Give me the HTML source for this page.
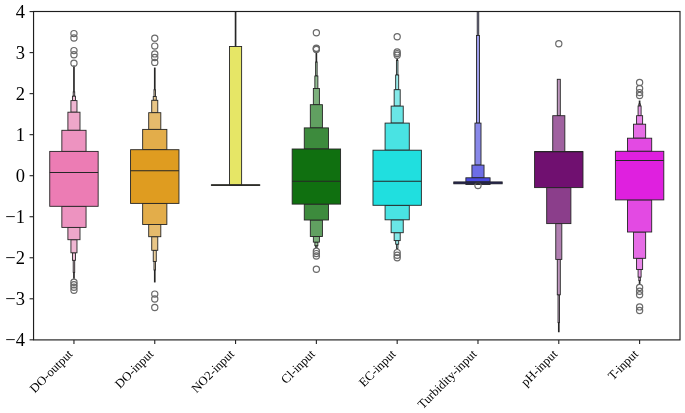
<!DOCTYPE html><html><head><meta charset="utf-8"><style>html,body{margin:0;padding:0;background:#fff;}svg{display:block;will-change:transform;}text{font-family:"Liberation Serif",serif;fill:#000;}</style></head><body>
<svg width="685" height="413" viewBox="0 0 685 413">
<defs><clipPath id="ax"><rect x="33.55" y="11.50" width="646.45" height="328.40"/></clipPath></defs>
<g clip-path="url(#ax)">
<rect x="73.58" y="66.00" width="0.76" height="25.90" fill="#f1d3e2" stroke="#262626" stroke-width="0.90"/>
<rect x="73.58" y="272.40" width="0.76" height="6.00" fill="#f1d3e2" stroke="#262626" stroke-width="0.90"/>
<rect x="73.20" y="91.90" width="1.51" height="4.30" fill="#f0ccde" stroke="#262626" stroke-width="0.90"/>
<rect x="73.20" y="260.30" width="1.51" height="12.10" fill="#f0ccde" stroke="#262626" stroke-width="0.90"/>
<rect x="72.44" y="96.20" width="3.02" height="4.40" fill="#f0c2d9" stroke="#262626" stroke-width="0.90"/>
<rect x="72.44" y="252.80" width="3.02" height="7.50" fill="#f0c2d9" stroke="#262626" stroke-width="0.90"/>
<rect x="70.93" y="100.60" width="6.05" height="11.60" fill="#efb6d2" stroke="#262626" stroke-width="0.90"/>
<rect x="70.93" y="239.70" width="6.05" height="13.10" fill="#efb6d2" stroke="#262626" stroke-width="0.90"/>
<rect x="67.90" y="112.20" width="12.10" height="18.10" fill="#eea7ca" stroke="#262626" stroke-width="0.90"/>
<rect x="67.90" y="227.40" width="12.10" height="12.30" fill="#eea7ca" stroke="#262626" stroke-width="0.90"/>
<rect x="61.85" y="130.30" width="24.20" height="21.10" fill="#ed93c0" stroke="#262626" stroke-width="0.90"/>
<rect x="61.85" y="206.30" width="24.20" height="21.10" fill="#ed93c0" stroke="#262626" stroke-width="0.90"/>
<rect x="49.75" y="151.40" width="48.40" height="54.90" fill="#ec7cb4" stroke="#262626" stroke-width="0.90"/>
<circle cx="73.95" cy="33.60" r="3.10" fill="none" stroke="#6a6a6a" stroke-width="1.20"/>
<circle cx="73.95" cy="38.00" r="3.10" fill="none" stroke="#6a6a6a" stroke-width="1.20"/>
<circle cx="73.95" cy="50.60" r="3.10" fill="none" stroke="#6a6a6a" stroke-width="1.20"/>
<circle cx="73.95" cy="54.80" r="3.10" fill="none" stroke="#6a6a6a" stroke-width="1.20"/>
<circle cx="73.95" cy="63.20" r="3.10" fill="none" stroke="#6a6a6a" stroke-width="1.20"/>
<circle cx="73.95" cy="282.30" r="3.10" fill="none" stroke="#6a6a6a" stroke-width="1.20"/>
<circle cx="73.95" cy="284.80" r="3.10" fill="none" stroke="#6a6a6a" stroke-width="1.20"/>
<circle cx="73.95" cy="287.20" r="3.10" fill="none" stroke="#6a6a6a" stroke-width="1.20"/>
<circle cx="73.95" cy="290.20" r="3.10" fill="none" stroke="#6a6a6a" stroke-width="1.20"/>
<rect x="154.38" y="68.00" width="0.76" height="21.70" fill="#eedbba" stroke="#262626" stroke-width="0.90"/>
<rect x="154.38" y="270.00" width="0.76" height="12.00" fill="#eedbba" stroke="#262626" stroke-width="0.90"/>
<rect x="154.00" y="89.70" width="1.51" height="6.80" fill="#edd6ad" stroke="#262626" stroke-width="0.90"/>
<rect x="154.00" y="261.50" width="1.51" height="8.50" fill="#edd6ad" stroke="#262626" stroke-width="0.90"/>
<rect x="153.25" y="96.50" width="3.02" height="3.80" fill="#ebcf9c" stroke="#262626" stroke-width="0.90"/>
<rect x="153.25" y="250.30" width="3.02" height="11.20" fill="#ebcf9c" stroke="#262626" stroke-width="0.90"/>
<rect x="151.73" y="100.30" width="6.05" height="12.40" fill="#e9c687" stroke="#262626" stroke-width="0.90"/>
<rect x="151.73" y="236.70" width="6.05" height="13.60" fill="#e9c687" stroke="#262626" stroke-width="0.90"/>
<rect x="148.71" y="112.70" width="12.10" height="16.70" fill="#e6bb6c" stroke="#262626" stroke-width="0.90"/>
<rect x="148.71" y="224.50" width="12.10" height="12.20" fill="#e6bb6c" stroke="#262626" stroke-width="0.90"/>
<rect x="142.66" y="129.40" width="24.20" height="20.30" fill="#e3ad4a" stroke="#262626" stroke-width="0.90"/>
<rect x="142.66" y="203.40" width="24.20" height="21.10" fill="#e3ad4a" stroke="#262626" stroke-width="0.90"/>
<rect x="130.56" y="149.70" width="48.40" height="53.70" fill="#df9c20" stroke="#262626" stroke-width="0.90"/>
<circle cx="154.76" cy="38.20" r="3.10" fill="none" stroke="#6a6a6a" stroke-width="1.20"/>
<circle cx="154.76" cy="46.10" r="3.10" fill="none" stroke="#6a6a6a" stroke-width="1.20"/>
<circle cx="154.76" cy="53.90" r="3.10" fill="none" stroke="#6a6a6a" stroke-width="1.20"/>
<circle cx="154.76" cy="57.50" r="3.10" fill="none" stroke="#6a6a6a" stroke-width="1.20"/>
<circle cx="154.76" cy="62.40" r="3.10" fill="none" stroke="#6a6a6a" stroke-width="1.20"/>
<circle cx="154.76" cy="294.10" r="3.10" fill="none" stroke="#6a6a6a" stroke-width="1.20"/>
<circle cx="154.76" cy="299.00" r="3.10" fill="none" stroke="#6a6a6a" stroke-width="1.20"/>
<circle cx="154.76" cy="307.50" r="3.10" fill="none" stroke="#6a6a6a" stroke-width="1.20"/>
<rect x="235.19" y="0.00" width="0.76" height="46.50" fill="#ededae" stroke="#262626" stroke-width="0.90"/>
<rect x="229.52" y="46.50" width="12.10" height="138.70" fill="#e6e666" stroke="#262626" stroke-width="0.90"/>
<rect x="211.37" y="184.80" width="48.40" height="0.60" fill="#dfdf20" stroke="#262626" stroke-width="0.90"/>
<rect x="315.99" y="52.00" width="0.76" height="10.00" fill="#b4d2b4" stroke="#262626" stroke-width="0.90"/>
<rect x="315.62" y="62.00" width="1.51" height="14.00" fill="#a6caa6" stroke="#262626" stroke-width="0.90"/>
<rect x="315.62" y="245.70" width="1.51" height="1.80" fill="#a6caa6" stroke="#262626" stroke-width="0.90"/>
<rect x="314.86" y="76.00" width="3.02" height="12.50" fill="#94bf94" stroke="#262626" stroke-width="0.90"/>
<rect x="314.86" y="242.10" width="3.02" height="3.60" fill="#94bf94" stroke="#262626" stroke-width="0.90"/>
<rect x="313.35" y="88.50" width="6.05" height="16.20" fill="#7db17d" stroke="#262626" stroke-width="0.90"/>
<rect x="313.35" y="236.50" width="6.05" height="5.60" fill="#7db17d" stroke="#262626" stroke-width="0.90"/>
<rect x="310.32" y="104.70" width="12.10" height="23.20" fill="#61a061" stroke="#262626" stroke-width="0.90"/>
<rect x="310.32" y="220.00" width="12.10" height="16.50" fill="#61a061" stroke="#262626" stroke-width="0.90"/>
<rect x="304.27" y="127.90" width="24.20" height="21.10" fill="#3d8b3d" stroke="#262626" stroke-width="0.90"/>
<rect x="304.27" y="204.10" width="24.20" height="15.90" fill="#3d8b3d" stroke="#262626" stroke-width="0.90"/>
<rect x="292.17" y="149.00" width="48.40" height="55.10" fill="#107010" stroke="#262626" stroke-width="0.90"/>
<circle cx="316.37" cy="32.70" r="3.10" fill="none" stroke="#6a6a6a" stroke-width="1.20"/>
<circle cx="316.37" cy="48.30" r="3.10" fill="none" stroke="#6a6a6a" stroke-width="1.20"/>
<circle cx="316.37" cy="48.80" r="3.10" fill="none" stroke="#6a6a6a" stroke-width="1.20"/>
<circle cx="316.37" cy="49.40" r="3.10" fill="none" stroke="#6a6a6a" stroke-width="1.20"/>
<circle cx="316.37" cy="251.20" r="3.10" fill="none" stroke="#6a6a6a" stroke-width="1.20"/>
<circle cx="316.37" cy="253.60" r="3.10" fill="none" stroke="#6a6a6a" stroke-width="1.20"/>
<circle cx="316.37" cy="256.00" r="3.10" fill="none" stroke="#6a6a6a" stroke-width="1.20"/>
<circle cx="316.37" cy="269.30" r="3.10" fill="none" stroke="#6a6a6a" stroke-width="1.20"/>
<rect x="396.80" y="58.50" width="0.76" height="2.00" fill="#b6eeee" stroke="#262626" stroke-width="0.90"/>
<rect x="396.42" y="60.50" width="1.51" height="14.50" fill="#a9eded" stroke="#262626" stroke-width="0.90"/>
<rect x="396.42" y="244.20" width="1.51" height="4.20" fill="#a9eded" stroke="#262626" stroke-width="0.90"/>
<rect x="395.67" y="75.00" width="3.02" height="14.70" fill="#99ebeb" stroke="#262626" stroke-width="0.90"/>
<rect x="395.67" y="240.60" width="3.02" height="3.60" fill="#99ebeb" stroke="#262626" stroke-width="0.90"/>
<rect x="394.15" y="89.70" width="6.05" height="16.40" fill="#84e9e9" stroke="#262626" stroke-width="0.90"/>
<rect x="394.15" y="232.70" width="6.05" height="7.90" fill="#84e9e9" stroke="#262626" stroke-width="0.90"/>
<rect x="391.13" y="106.10" width="12.10" height="17.00" fill="#6ae6e6" stroke="#262626" stroke-width="0.90"/>
<rect x="391.13" y="219.80" width="12.10" height="12.90" fill="#6ae6e6" stroke="#262626" stroke-width="0.90"/>
<rect x="385.08" y="123.10" width="24.20" height="27.10" fill="#49e3e3" stroke="#262626" stroke-width="0.90"/>
<rect x="385.08" y="205.30" width="24.20" height="14.50" fill="#49e3e3" stroke="#262626" stroke-width="0.90"/>
<rect x="372.98" y="150.20" width="48.40" height="55.10" fill="#20dfdf" stroke="#262626" stroke-width="0.90"/>
<circle cx="397.18" cy="36.80" r="3.10" fill="none" stroke="#6a6a6a" stroke-width="1.20"/>
<circle cx="397.18" cy="51.90" r="3.10" fill="none" stroke="#6a6a6a" stroke-width="1.20"/>
<circle cx="397.18" cy="53.60" r="3.10" fill="none" stroke="#6a6a6a" stroke-width="1.20"/>
<circle cx="397.18" cy="55.30" r="3.10" fill="none" stroke="#6a6a6a" stroke-width="1.20"/>
<circle cx="397.18" cy="252.60" r="3.10" fill="none" stroke="#6a6a6a" stroke-width="1.20"/>
<circle cx="397.18" cy="255.20" r="3.10" fill="none" stroke="#6a6a6a" stroke-width="1.20"/>
<circle cx="397.18" cy="257.80" r="3.10" fill="none" stroke="#6a6a6a" stroke-width="1.20"/>
<rect x="477.23" y="0.00" width="1.51" height="35.50" fill="#afafec" stroke="#262626" stroke-width="0.90"/>
<rect x="476.47" y="35.50" width="3.02" height="87.60" fill="#9e9eeb" stroke="#262626" stroke-width="0.90"/>
<rect x="474.96" y="123.10" width="6.05" height="42.00" fill="#8888e9" stroke="#262626" stroke-width="0.90"/>
<rect x="471.93" y="165.10" width="12.10" height="12.70" fill="#6d6de6" stroke="#262626" stroke-width="0.90"/>
<rect x="465.88" y="177.80" width="24.20" height="4.10" fill="#4a4ae3" stroke="#262626" stroke-width="0.90"/>
<rect x="465.88" y="183.80" width="24.20" height="0.70" fill="#4a4ae3" stroke="#262626" stroke-width="0.90"/>
<rect x="453.78" y="181.90" width="48.40" height="1.90" fill="#2020df" stroke="#262626" stroke-width="0.90"/>
<circle cx="477.98" cy="185.60" r="3.10" fill="none" stroke="#6a6a6a" stroke-width="1.20"/>
<rect x="558.41" y="322.60" width="0.76" height="9.20" fill="#d2b8d2" stroke="#262626" stroke-width="0.90"/>
<rect x="558.03" y="294.80" width="1.51" height="27.80" fill="#caaaca" stroke="#262626" stroke-width="0.90"/>
<rect x="557.28" y="79.30" width="3.02" height="36.40" fill="#bf97bf" stroke="#262626" stroke-width="0.90"/>
<rect x="557.28" y="259.40" width="3.02" height="35.40" fill="#bf97bf" stroke="#262626" stroke-width="0.90"/>
<rect x="555.77" y="223.60" width="6.05" height="35.80" fill="#b17fb1" stroke="#262626" stroke-width="0.90"/>
<rect x="552.74" y="115.70" width="12.10" height="35.90" fill="#a062a0" stroke="#262626" stroke-width="0.90"/>
<rect x="546.69" y="187.60" width="24.20" height="36.00" fill="#8b3e8b" stroke="#262626" stroke-width="0.90"/>
<rect x="534.59" y="151.60" width="48.40" height="36.00" fill="#701070" stroke="#262626" stroke-width="0.90"/>
<circle cx="558.79" cy="43.70" r="3.10" fill="none" stroke="#6a6a6a" stroke-width="1.20"/>
<rect x="639.22" y="101.00" width="0.76" height="3.00" fill="#eebcee" stroke="#262626" stroke-width="0.90"/>
<rect x="639.22" y="280.50" width="0.76" height="3.40" fill="#eebcee" stroke="#262626" stroke-width="0.90"/>
<rect x="638.84" y="104.00" width="1.51" height="2.00" fill="#edafed" stroke="#262626" stroke-width="0.90"/>
<rect x="638.84" y="277.10" width="1.51" height="3.40" fill="#edafed" stroke="#262626" stroke-width="0.90"/>
<rect x="638.08" y="106.00" width="3.02" height="9.70" fill="#eb9deb" stroke="#262626" stroke-width="0.90"/>
<rect x="638.08" y="269.50" width="3.02" height="7.60" fill="#eb9deb" stroke="#262626" stroke-width="0.90"/>
<rect x="636.57" y="115.70" width="6.05" height="8.50" fill="#e987e9" stroke="#262626" stroke-width="0.90"/>
<rect x="636.57" y="258.30" width="6.05" height="11.20" fill="#e987e9" stroke="#262626" stroke-width="0.90"/>
<rect x="633.55" y="124.20" width="12.10" height="14.00" fill="#e66de6" stroke="#262626" stroke-width="0.90"/>
<rect x="633.55" y="232.00" width="12.10" height="26.30" fill="#e66de6" stroke="#262626" stroke-width="0.90"/>
<rect x="627.50" y="138.20" width="24.20" height="13.10" fill="#e34ae3" stroke="#262626" stroke-width="0.90"/>
<rect x="627.50" y="199.90" width="24.20" height="32.10" fill="#e34ae3" stroke="#262626" stroke-width="0.90"/>
<rect x="615.40" y="151.30" width="48.40" height="48.60" fill="#df20df" stroke="#262626" stroke-width="0.90"/>
<circle cx="639.60" cy="82.50" r="3.10" fill="none" stroke="#6a6a6a" stroke-width="1.20"/>
<circle cx="639.60" cy="88.50" r="3.10" fill="none" stroke="#6a6a6a" stroke-width="1.20"/>
<circle cx="639.60" cy="92.60" r="3.10" fill="none" stroke="#6a6a6a" stroke-width="1.20"/>
<circle cx="639.60" cy="95.50" r="3.10" fill="none" stroke="#6a6a6a" stroke-width="1.20"/>
<circle cx="639.60" cy="287.50" r="3.10" fill="none" stroke="#6a6a6a" stroke-width="1.20"/>
<circle cx="639.60" cy="291.20" r="3.10" fill="none" stroke="#6a6a6a" stroke-width="1.20"/>
<circle cx="639.60" cy="294.80" r="3.10" fill="none" stroke="#6a6a6a" stroke-width="1.20"/>
<circle cx="639.60" cy="306.90" r="3.10" fill="none" stroke="#6a6a6a" stroke-width="1.20"/>
<circle cx="639.60" cy="310.50" r="3.10" fill="none" stroke="#6a6a6a" stroke-width="1.20"/>
<line x1="49.75" x2="98.15" y1="172.50" y2="172.50" stroke="#262626" stroke-width="1.1"/>
<line x1="130.56" x2="178.96" y1="170.80" y2="170.80" stroke="#262626" stroke-width="1.1"/>
<line x1="211.37" x2="259.77" y1="185.10" y2="185.10" stroke="#262626" stroke-width="1.1"/>
<line x1="292.17" x2="340.57" y1="181.30" y2="181.30" stroke="#262626" stroke-width="1.1"/>
<line x1="372.98" x2="421.38" y1="181.30" y2="181.30" stroke="#262626" stroke-width="1.1"/>
<line x1="453.78" x2="502.18" y1="182.90" y2="182.90" stroke="#262626" stroke-width="1.1"/>
<line x1="534.59" x2="582.99" y1="151.60" y2="151.60" stroke="#262626" stroke-width="1.1"/>
<line x1="615.40" x2="663.80" y1="160.50" y2="160.50" stroke="#262626" stroke-width="1.1"/>
</g>
<rect x="33.55" y="11.50" width="646.45" height="328.40" fill="none" stroke="#1e1e1e" stroke-width="1.15"/>
<line x1="29.55" x2="33.55" y1="339.82" y2="339.82" stroke="#222" stroke-width="1.1"/>
<text x="25" y="346.22" font-size="18.5" text-anchor="end">−4</text>
<line x1="29.55" x2="33.55" y1="298.79" y2="298.79" stroke="#222" stroke-width="1.1"/>
<text x="25" y="305.19" font-size="18.5" text-anchor="end">−3</text>
<line x1="29.55" x2="33.55" y1="257.76" y2="257.76" stroke="#222" stroke-width="1.1"/>
<text x="25" y="264.16" font-size="18.5" text-anchor="end">−2</text>
<line x1="29.55" x2="33.55" y1="216.73" y2="216.73" stroke="#222" stroke-width="1.1"/>
<text x="25" y="223.13" font-size="18.5" text-anchor="end">−1</text>
<line x1="29.55" x2="33.55" y1="175.70" y2="175.70" stroke="#222" stroke-width="1.1"/>
<text x="25" y="182.10" font-size="18.5" text-anchor="end">0</text>
<line x1="29.55" x2="33.55" y1="134.67" y2="134.67" stroke="#222" stroke-width="1.1"/>
<text x="25" y="141.07" font-size="18.5" text-anchor="end">1</text>
<line x1="29.55" x2="33.55" y1="93.64" y2="93.64" stroke="#222" stroke-width="1.1"/>
<text x="25" y="100.04" font-size="18.5" text-anchor="end">2</text>
<line x1="29.55" x2="33.55" y1="52.61" y2="52.61" stroke="#222" stroke-width="1.1"/>
<text x="25" y="59.01" font-size="18.5" text-anchor="end">3</text>
<line x1="29.55" x2="33.55" y1="11.58" y2="11.58" stroke="#222" stroke-width="1.1"/>
<text x="25" y="17.98" font-size="18.5" text-anchor="end">4</text>
<line x1="73.95" x2="73.95" y1="339.90" y2="343.90" stroke="#222" stroke-width="1.1"/>
<text transform="translate(73.35,354.80) rotate(-45)" font-size="12.6" text-anchor="end">DO-output</text>
<line x1="154.76" x2="154.76" y1="339.90" y2="343.90" stroke="#222" stroke-width="1.1"/>
<text transform="translate(154.16,354.80) rotate(-45)" font-size="12.6" text-anchor="end">DO-input</text>
<line x1="235.57" x2="235.57" y1="339.90" y2="343.90" stroke="#222" stroke-width="1.1"/>
<text transform="translate(234.97,354.80) rotate(-45)" font-size="12.6" text-anchor="end">NO2-input</text>
<line x1="316.37" x2="316.37" y1="339.90" y2="343.90" stroke="#222" stroke-width="1.1"/>
<text transform="translate(315.77,354.80) rotate(-45)" font-size="12.6" text-anchor="end">Cl-input</text>
<line x1="397.18" x2="397.18" y1="339.90" y2="343.90" stroke="#222" stroke-width="1.1"/>
<text transform="translate(396.58,354.80) rotate(-45)" font-size="12.6" text-anchor="end">EC-input</text>
<line x1="477.98" x2="477.98" y1="339.90" y2="343.90" stroke="#222" stroke-width="1.1"/>
<text transform="translate(477.38,354.80) rotate(-45)" font-size="12.6" text-anchor="end">Turbidity-input</text>
<line x1="558.79" x2="558.79" y1="339.90" y2="343.90" stroke="#222" stroke-width="1.1"/>
<text transform="translate(558.19,354.80) rotate(-45)" font-size="12.6" text-anchor="end">pH-input</text>
<line x1="639.60" x2="639.60" y1="339.90" y2="343.90" stroke="#222" stroke-width="1.1"/>
<text transform="translate(639.00,354.80) rotate(-45)" font-size="12.6" text-anchor="end">T-input</text>
</svg></body></html>
